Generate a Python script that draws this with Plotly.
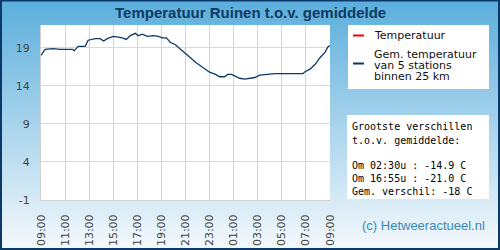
import plotly.graph_objects as go

# ---- data ----
times = ["09:00", "09:20", "10:00", "10:35", "11:38", "11:45", "12:05", "12:40", "12:55",
         "13:30", "13:55", "14:12", "14:30", "15:00", "15:25", "15:45", "16:05", "16:25",
         "16:50", "17:05", "17:25", "17:50", "18:20", "18:45", "19:05", "19:25", "19:45",
         "20:10", "20:35", "21:00", "21:25", "21:50", "22:10", "22:35", "23:00", "23:30",
         "23:50", "00:15", "00:30", "00:50", "01:30", "01:55", "02:20", "02:45", "03:10",
         "04:00", "04:25", "06:45", "06:55", "07:20", "07:45", "08:10", "08:35", "08:50",
         "09:00"]
gem_temp = [18.0, 18.8, 18.9, 18.8, 18.8, 18.6, 19.2, 19.2, 20.0,
            20.2, 20.2, 19.9, 20.2, 20.5, 20.4, 20.3, 20.1, 20.6,
            20.9, 20.6, 20.8, 20.5, 20.6, 20.5, 20.3, 20.3, 19.7,
            19.4, 18.8, 18.3, 17.7, 17.1, 16.75, 16.2, 15.8, 15.5,
            15.2, 15.2, 15.5, 15.5, 15.0, 14.9, 15.0, 15.1, 15.4,
            15.5, 15.6, 15.6, 15.85, 16.2, 16.8, 17.7, 18.4, 19.15,
            19.3]
temp_times = []
temp_values = []
y_ticks = [-1, 4, 9, 14, 19]
y_tick_labels = ["-1", "4", "9", "14", "19"]

title_text = "Temperatuur Ruinen t.o.v. gemiddelde"
legend_labels = ["Temperatuur", ["Gem. temperatuur", "van 5 stations", "binnen 25 km"]]
info_lines = ["Grootste verschillen", "t.o.v. gemiddelde:", "",
              "Om 02:30u : -14.9 C", "Om 16:55u : -21.0 C", "Gem. verschil: -18 C"]
credit = "(c) Hetweeractueel.nl"

# build datetime x values (day rolls over after midnight)
def to_dt(tlist):
    out, day, prev = [], 1, None
    for t in tlist:
        h = int(t[:2])
        if prev is not None and h < prev:
            day += 1
        prev = h
        out.append(f"2024-05-0{day} {t}")
    return out

x_gem = to_dt(times)

# ---- geometry ----
W, H = 500, 250
PL, PR, PT, PB = 41, 330, 25, 200
def xp(px):
    return (px - PL) / (PR - PL)
def yp(py):
    return (PB - py) / (PB - PT)

fig = go.Figure()
fig.add_trace(go.Scatter(x=to_dt(temp_times), y=temp_values, mode="lines",
                         line=dict(color="#ff0000", width=1.5), showlegend=False))
fig.add_trace(go.Scatter(x=x_gem, y=gem_temp, mode="lines",
                         line=dict(color="#0b3a66", width=1.3), showlegend=False,
                         hoverinfo="skip"))

shapes = []
# background gradient
top_c = (90, 174, 220)
bot_c = (245, 249, 252)
N = 125
for i in range(N):
    f = (i + 0.5) / N
    c = tuple(int(round(top_c[k] + (bot_c[k] - top_c[k]) * f)) for k in range(3))
    y0 = i * H / N
    y1 = (i + 1) * H / N + 0.6
    shapes.append(dict(type="rect", xref="paper", yref="paper", layer="below",
                       x0=xp(0), x1=xp(W), y0=yp(y1), y1=yp(y0),
                       fillcolor=f"rgb{c}", line=dict(width=0)))
# plot area white
shapes.append(dict(type="rect", xref="paper", yref="paper", layer="below",
                   x0=0, x1=1, y0=0, y1=1, fillcolor="white", line=dict(width=0)))
# legend box
shapes.append(dict(type="rect", xref="paper", yref="paper", layer="below",
                   x0=xp(348), x1=xp(489), y0=yp(89), y1=yp(25),
                   fillcolor="white", line=dict(width=0)))
shapes.append(dict(type="line", xref="paper", yref="paper",
                   x0=xp(353), x1=xp(364), y0=yp(35.5), y1=yp(35.5),
                   line=dict(color="#ff0000", width=2)))
shapes.append(dict(type="line", xref="paper", yref="paper",
                   x0=xp(353), x1=xp(364), y0=yp(63.5), y1=yp(63.5),
                   line=dict(color="#0b3a66", width=2)))
# info box
shapes.append(dict(type="rect", xref="paper", yref="paper", layer="below",
                   x0=xp(347), x1=xp(489), y0=yp(199), y1=yp(115),
                   fillcolor="white", line=dict(width=0)))
# outer border
shapes.append(dict(type="rect", xref="paper", yref="paper", layer="above",
                   x0=xp(1), x1=xp(W - 1), y0=yp(H - 1), y1=yp(0.5),
                   fillcolor="rgba(0,0,0,0)", line=dict(color="#0b3a6a", width=2)))

annotations = []
annotations.append(dict(text=title_text, xref="paper", yref="paper", x=xp(250), y=yp(12),
                        xanchor="center", yanchor="middle", showarrow=False,
                        font=dict(family="Liberation Sans, Arial", size=15, color="#0f3a62",
                                  weight="bold")))
annotations.append(dict(text=legend_labels[0], xref="paper", yref="paper", x=xp(372), y=yp(35),
                        xanchor="left", yanchor="middle", showarrow=False, height=11,
                        font=dict(family="DejaVu Sans", size=11, color="#111111")))
for i, t in enumerate(legend_labels[1]):
    annotations.append(dict(text=t, xref="paper", yref="paper", x=xp(372), y=yp(54 + i * 10.8),
                            xanchor="left", yanchor="middle", showarrow=False, height=10,
                            valign="middle",
                            font=dict(family="DejaVu Sans", size=11, color="#111111")))
info_y = [126, 139.5, 152, 165, 178, 191]
for t, yy in zip(info_lines, info_y):
    if t:
        annotations.append(dict(text=t, xref="paper", yref="paper", x=xp(350), y=yp(yy),
                                xanchor="left", yanchor="middle", showarrow=False, height=12,
                                font=dict(family="DejaVu Sans Mono", size=10, color="#000000")))
annotations.append(dict(text=credit, xref="paper", yref="paper", x=xp(487), y=yp(225),
                        xanchor="right", yanchor="middle", showarrow=False,
                        font=dict(family="Liberation Sans, Arial", size=13, color="#3a87b5")))

fig.update_layout(
    width=W, height=H,
    margin=dict(l=PL, r=W - PR, t=PT, b=H - PB, autoexpand=False),
    paper_bgcolor="rgb(90,174,220)",
    plot_bgcolor="white",
    showlegend=False,
    shapes=shapes,
    annotations=annotations,
    xaxis=dict(type="date", range=["2024-05-01 09:00", "2024-05-02 09:00"],
               tick0="2024-05-01 09:00", dtick=2 * 3600 * 1000, tickformat="%H:%M",
               tickangle=-90, showgrid=True, gridcolor="#d2d2d2", gridwidth=1,
               showline=True, linecolor="#d2d2d2", linewidth=1,
               ticks="outside", ticklen=9, tickcolor="rgba(0,0,0,0)",
               tickfont=dict(family="DejaVu Sans", size=11, color="#444444"),
               zeroline=False, fixedrange=True),
    yaxis=dict(range=[-1, 22], tickvals=y_ticks, ticktext=y_tick_labels,
               showgrid=True, gridcolor="#d9d9d9",
               gridwidth=1, showline=True, linecolor="#d2d2d2", linewidth=1,
               ticks="outside", ticklen=8, tickcolor="rgba(0,0,0,0)",
               tickfont=dict(family="DejaVu Sans", size=11, color="#444444"),
               zeroline=False, fixedrange=True),
)

fig.write_html("out.html")
